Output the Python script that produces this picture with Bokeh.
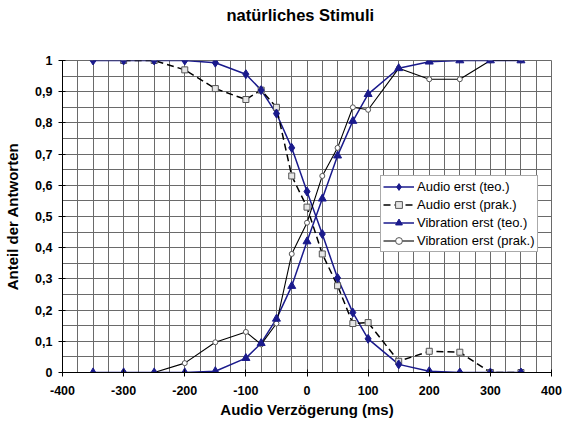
from bokeh.plotting import figure
from bokeh.models import (Range1d, FixedTicker, CustomJSTickFormatter, Legend, LegendItem, Title)
from bokeh.embed import file_html
from bokeh.resources import INLINE

# ---- data -------------------------------------------------------------
x_teo = [-350, -300, -250, -200, -150, -100, -75, -50, -25, 0, 25, 50, 75, 100, 150, 200, 250, 300, 350]
audio_teo = [1.0, 1.0, 1.0, 1.0, 0.993, 0.956, 0.905, 0.83, 0.72, 0.58, 0.444, 0.303, 0.192, 0.108, 0.026, 0.004, 0.0, 0.0, 0.0]
vib_teo = [0.0, 0.0, 0.0, 0.0, 0.004, 0.046, 0.094, 0.172, 0.277, 0.42, 0.557, 0.695, 0.806, 0.892, 0.975, 0.996, 1.0, 1.0, 1.0]

x_prak = [-300, -250, -200, -150, -100, -75, -50, -25, 0, 25, 50, 75, 100, 150, 200, 250, 300, 350]
audio_prak = [1.0, 1.0, 0.97, 0.91, 0.875, 0.905, 0.85, 0.63, 0.53, 0.38, 0.278, 0.157, 0.16, 0.036, 0.068, 0.065, 0.0, 0.0]
vib_prak = [0.0, 0.0, 0.03, 0.097, 0.13, 0.09, 0.157, 0.38, 0.48, 0.63, 0.72, 0.85, 0.842, 0.975, 0.94, 0.94, 1.0, 1.0]

x_ticks = [-400, -300, -200, -100, 0, 100, 200, 300, 400]
y_ticks = [0.0, 0.1, 0.2, 0.3, 0.4, 0.5, 0.6, 0.7, 0.8, 0.9, 1.0]
x_grid = list(range(-400, 401, 25))
y_grid = [i * 0.05 for i in range(21)]

title_text = "natürliches Stimuli"
labels = ["Audio erst (teo.)", "Audio erst (prak.)", "Vibration erst (teo.)", "Vibration erst (prak.)"]

NAVY = "#1a1a8c"
FONT = "Liberation Sans"

p = figure(width=570, height=423, output_backend="svg", toolbar_location=None,
           x_range=Range1d(-400, 400), y_range=Range1d(0, 1),
           min_border_left=62, min_border_right=19, min_border_top=60, min_border_bottom=51)
p.background_fill_color = "white"
p.border_fill_color = "white"
p.outline_line_color = "#6a6a6a"

# title: a spacer title next to the frame, then the real title above it
p.add_layout(Title(text=" ", text_font_size="1px", standoff=34), "above")
p.add_layout(Title(text=title_text, align="left", offset=164, standoff=0,
                   text_font=FONT, text_font_size="16.5px", text_font_style="bold",
                   text_color="black"), "above")

# grid
p.xgrid.ticker = FixedTicker(ticks=x_grid)
p.ygrid.ticker = FixedTicker(ticks=y_grid)
for g in (p.xgrid, p.ygrid):
    g.grid_line_color = "#6a6a6a"
    g.grid_line_width = 1

# axes
p.xaxis.ticker = FixedTicker(ticks=x_ticks)
p.yaxis.ticker = FixedTicker(ticks=y_ticks)
p.xaxis.formatter = CustomJSTickFormatter(code="return tick.toFixed(0);")
p.yaxis.formatter = CustomJSTickFormatter(code="""
const r = Math.round(tick * 10) / 10;
if (Math.abs(r - Math.round(r)) < 1e-9) { return Math.round(r).toString(); }
return r.toFixed(1).replace('.', ',');
""")
p.xaxis.axis_label = "Audio Verzögerung (ms)"
p.yaxis.axis_label = "Anteil der Antworten"
for ax in (p.xaxis, p.yaxis):
    ax.axis_line_color = "black"
    ax.axis_line_width = 1
    ax.major_tick_line_color = "black"
    ax.major_tick_in = 3
    ax.major_tick_out = 4
    ax.minor_tick_line_color = None
    ax.major_label_text_font = FONT
    ax.major_label_text_font_size = "12.5px"
    ax.major_label_text_font_style = "bold"
    ax.major_label_text_color = "black"
    ax.axis_label_text_font = FONT
    ax.axis_label_text_font_size = "15px"
    ax.axis_label_text_font_style = "bold"
    ax.axis_label_text_color = "black"
p.xaxis.major_label_standoff = 9
p.xaxis.axis_label_standoff = 3
p.yaxis.major_label_standoff = 6
p.yaxis.axis_label_standoff = 11

# lines first (theoretical under practical), then markers (practical under theoretical)
l_at = p.line(x_teo, audio_teo, line_color=NAVY, line_width=1.5)
l_vt = p.line(x_teo, vib_teo, line_color=NAVY, line_width=1.5)
l_ap = p.line(x_prak, audio_prak, line_color="black", line_width=1.5, line_dash="7 4")
l_vp = p.line(x_prak, vib_prak, line_color="black", line_width=1.1)

m_ap = p.scatter(x_prak, audio_prak, marker="square", size=6, line_color="#555555",
                 fill_color="#e6e6e6", line_width=1)
m_vp = p.scatter(x_prak, vib_prak, marker="circle", size=5, line_color="#555555",
                 fill_color="white", line_width=1)
m_at = p.scatter(x_teo, audio_teo, marker="diamond", size=9, line_color=NAVY, fill_color=NAVY)
m_vt = p.scatter(x_teo, vib_teo, marker="triangle", size=8, line_color=NAVY, fill_color=NAVY)

legend = Legend(items=[
    LegendItem(label=labels[0], renderers=[l_at, m_at]),
    LegendItem(label=labels[1], renderers=[l_ap, m_ap]),
    LegendItem(label=labels[2], renderers=[l_vt, m_vt]),
    LegendItem(label=labels[3], renderers=[l_vp, m_vp]),
], location=(318, 120))
legend.label_text_font = FONT
legend.label_text_font_size = "13px"
legend.label_text_color = "black"
legend.glyph_width = 31
legend.glyph_height = 17
legend.label_height = 17
legend.label_standoff = 3
legend.spacing = 1
legend.padding = 2
legend.margin = 0
legend.border_line_color = "#555555"
legend.border_line_width = 1
legend.background_fill_color = "white"
legend.background_fill_alpha = 1
p.add_layout(legend)

open("out.html", "w").write(file_html(p, INLINE))
